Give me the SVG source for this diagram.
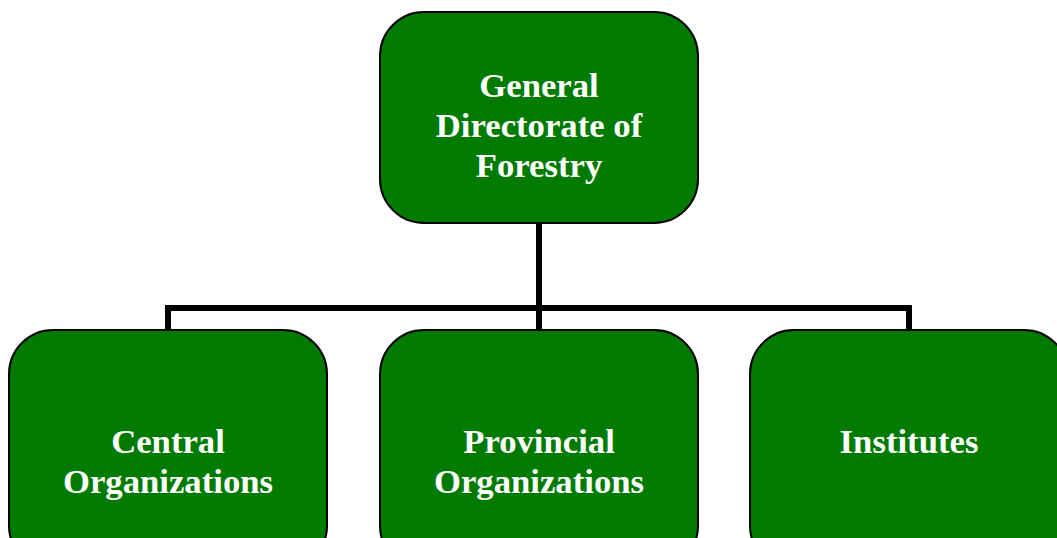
<svg xmlns="http://www.w3.org/2000/svg" width="1057" height="538" viewBox="0 0 1057 538">
  <style>
    .box { fill: #007b00; stroke: #000; stroke-width: 2; }
    .label { fill: #fff; font-family: "Liberation Serif", "Times New Roman", serif; font-weight: bold; font-size: 34.7px; text-anchor: middle; }
    .wire { fill: none; stroke: #000; stroke-width: 6; }
  </style>
  <rect width="1057" height="538" fill="#fff"/>
  <g id="connectors">
    <line class="wire" x1="539" y1="222" x2="539" y2="331"/>
    <polyline class="wire" points="168,331 168,308 909,308 909,331"/>
  </g>
  <g id="node-gdf">
    <rect class="box" x="380" y="12" width="318" height="211" rx="44"/>
    <text class="label" x="539" y="97">General</text>
    <text class="label" x="539" y="137">Directorate of</text>
    <text class="label" x="539" y="177">Forestry</text>
  </g>
  <g id="node-central">
    <rect class="box" x="9" y="330" width="318" height="240" rx="44"/>
    <text class="label" x="168" y="453">Central</text>
    <text class="label" x="168" y="493">Organizations</text>
  </g>
  <g id="node-provincial">
    <rect class="box" x="380" y="330" width="318" height="240" rx="44"/>
    <text class="label" x="539" y="453">Provincial</text>
    <text class="label" x="539" y="493">Organizations</text>
  </g>
  <g id="node-institutes">
    <rect class="box" x="750" y="330" width="318" height="240" rx="44"/>
    <text class="label" x="909" y="453">Institutes</text>
  </g>
</svg>
